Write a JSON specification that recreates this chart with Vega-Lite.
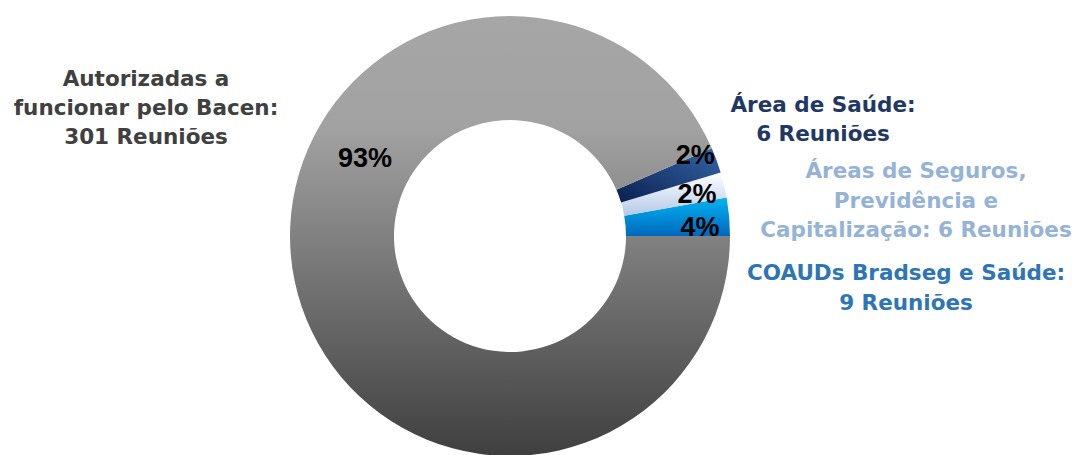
{
  "$schema": "https://vega.github.io/schema/vega-lite/v6.json",
  "autosize": {"type": "none"},
  "width": 1020,
  "height": 436,
  "padding": {"left": 0, "top": 18, "right": 57, "bottom": 1},
  "background": "white",
  "config": {"view": {"stroke": null}, "font": "Liberation Sans"},
  "data": {
    "values": [
      {"grupo": "COAUDs Bradseg e Saúde", "reunioes": 9, "pct": "4%", "ordem": 1, "rotulo": "COAUDs Bradseg e Saúde:\n9 Reuniões"},
      {"grupo": "Áreas de Seguros, Previdência e Capitalização", "reunioes": 6, "pct": "2%", "ordem": 2, "rotulo": "Áreas de Seguros,\nPrevidência e\nCapitalização: 6 Reuniões"},
      {"grupo": "Área de Saúde", "reunioes": 6, "pct": "2%", "ordem": 3, "rotulo": "Área de Saúde:\n6 Reuniões"},
      {"grupo": "Autorizadas a funcionar pelo Bacen", "reunioes": 301, "pct": "93%", "ordem": 4, "rotulo": "Autorizadas a\nfuncionar pelo Bacen:\n301 Reuniões"}
    ]
  },
  "transform": [
    {"stack": "reunioes", "groupby": [], "sort": [{"field": "ordem", "order": "ascending"}], "as": ["ini", "fim"]}
  ],
  "layer": [
    {
      "mark": {"type": "arc", "innerRadius": 116, "outerRadius": 220},
      "encoding": {
        "theta": {"field": "ini", "type": "quantitative", "scale": {"domain": [0, 322], "range": [1.5708, -4.7124]}},
        "theta2": {"field": "fim"},
        "fill": {
          "condition": [
            {"test": "datum.ordem === 1", "value": {"gradient": "linear", "x1": 0, "y1": 0, "x2": 0, "y2": 1, "stops": [{"offset": 0, "color": "#00b4f2"}, {"offset": 1, "color": "#0068bd"}]}},
            {"test": "datum.ordem === 2", "value": {"gradient": "linear", "x1": 0, "y1": 0, "x2": 0, "y2": 1, "stops": [{"offset": 0, "color": "#ffffff"}, {"offset": 1, "color": "#b4c9e8"}]}},
            {"test": "datum.ordem === 3", "value": {"gradient": "linear", "x1": 0, "y1": 1, "x2": 1, "y2": 0, "stops": [{"offset": 0, "color": "#0a1f50"}, {"offset": 1, "color": "#3566a6"}]}}
          ],
          "value": {"gradient": "linear", "x1": 0, "y1": 0, "x2": 0, "y2": 1, "stops": [{"offset": 0, "color": "#a6a6a6"}, {"offset": 0.25, "color": "#a2a2a2"}, {"offset": 1, "color": "#3f3f3f"}]}
        }
      }
    },
    {
      "transform": [{"filter": "datum.ordem <= 2"}],
      "mark": {"type": "text", "radius": 190, "fontSize": 27, "fontWeight": "bold", "color": "#000000", "align": "center", "baseline": "alphabetic"},
      "encoding": {
        "theta": {"field": "ini", "type": "quantitative"},
        "text": {"field": "pct", "type": "nominal"}
      }
    },
    {
      "transform": [{"filter": "datum.ordem === 3"}],
      "mark": {"type": "text", "radius": 202, "fontSize": 27, "fontWeight": "bold", "color": "#000000", "align": "center", "baseline": "middle"},
      "encoding": {
        "theta": {"field": "fim", "type": "quantitative"},
        "text": {"field": "pct", "type": "nominal"}
      }
    },
    {
      "transform": [{"filter": "datum.ordem === 4"}],
      "mark": {"type": "text", "fontSize": 27, "fontWeight": "bold", "color": "#000000", "align": "center", "baseline": "alphabetic", "dx": -145, "dy": -69},
      "encoding": {"text": {"field": "pct", "type": "nominal"}}
    },
    {
      "transform": [{"filter": "datum.ordem === 4"}],
      "mark": {"type": "text", "font": "DejaVu Sans", "fontSize": 21.5, "fontWeight": "bold", "color": "#404040", "align": "center", "baseline": "alphabetic", "lineBreak": "\n", "lineHeight": 29, "dx": -364, "dy": -150},
      "encoding": {"text": {"field": "rotulo", "type": "nominal"}}
    },
    {
      "transform": [{"filter": "datum.ordem === 3"}],
      "mark": {"type": "text", "font": "DejaVu Sans", "fontSize": 21.5, "fontWeight": "bold", "color": "#1f3864", "align": "center", "baseline": "alphabetic", "lineBreak": "\n", "lineHeight": 29, "dx": 313, "dy": -124},
      "encoding": {"text": {"field": "rotulo", "type": "nominal"}}
    },
    {
      "transform": [{"filter": "datum.ordem === 2"}],
      "mark": {"type": "text", "font": "DejaVu Sans", "fontSize": 21.5, "fontWeight": "bold", "color": "#95b3d7", "align": "center", "baseline": "alphabetic", "lineBreak": "\n", "lineHeight": 29.5, "dx": 406, "dy": -58},
      "encoding": {"text": {"field": "rotulo", "type": "nominal"}}
    },
    {
      "transform": [{"filter": "datum.ordem === 1"}],
      "mark": {"type": "text", "font": "DejaVu Sans", "fontSize": 21.5, "fontWeight": "bold", "color": "#2e75b6", "align": "center", "baseline": "alphabetic", "lineBreak": "\n", "lineHeight": 30, "dx": 396, "dy": 44},
      "encoding": {"text": {"field": "rotulo", "type": "nominal"}}
    }
  ]
}
